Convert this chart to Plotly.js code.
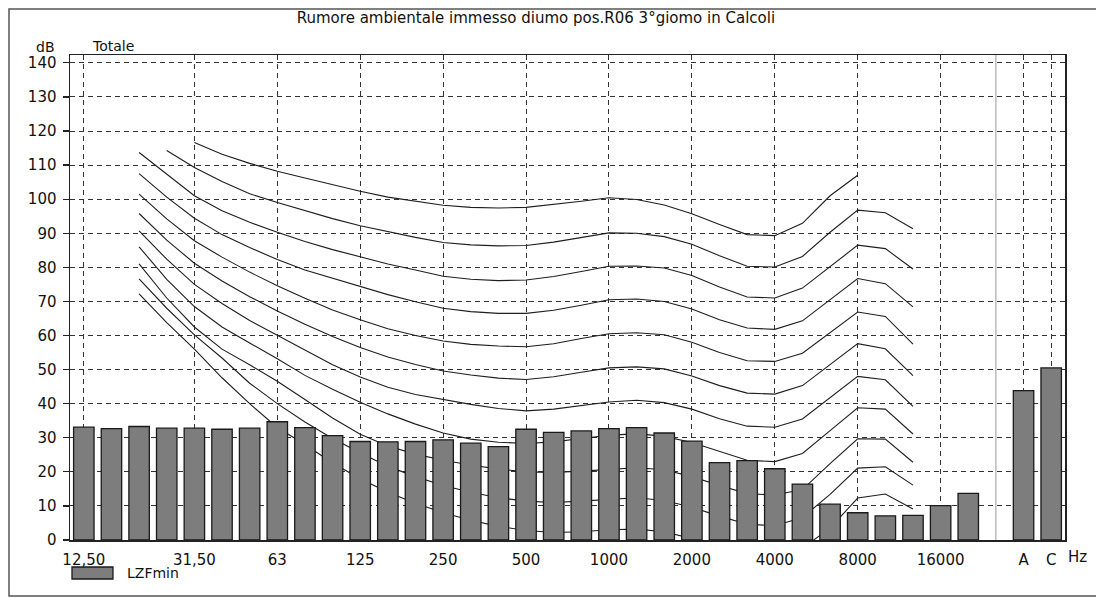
<!DOCTYPE html>
<html>
<head>
<meta charset="utf-8">
<script src="https://cdn.plot.ly/plotly-3.0.1.min.js"></script>
<style>
  html, body { margin: 0; padding: 0; background: #ffffff; }
  #chart { width: 1096px; height: 598px; }
</style>
</head>
<body>
<div id="chart"></div>
<script>
// ---- data ----
const bands = ["12.5","16","20","25","31.5","40","50","63","80","100","125","160","200","250","315","400",
  "500","630","800","1000","1250","1600","2000","2500","3150","4000","5000","6300","8000","10000","12500","16000","20000"];
const lzfmin = [33.1, 32.7, 33.3, 32.8, 32.8, 32.5, 32.8, 34.7, 33.0, 30.6, 28.9, 28.8, 28.9, 29.4, 28.4, 27.4,
  32.5, 31.6, 32.0, 32.7, 33.0, 31.4, 29.0, 22.7, 23.3, 20.9, 16.4, 10.5, 8.0, 7.1, 7.2, 10.1, 13.7];
const totalLabels = ["A", "C"];
const totalValues = [43.8, 50.5];
const spacer = " ";

const tickBands  = ["12.5","31.5","63","125","250","500","1000","2000","4000","8000","16000","A","C"];
const tickLabels = ["12,50","31,50","63","125","250","500","1000","2000","4000","8000","16000","A","C"];

// equal-loudness contours (20 Hz ... 12500 Hz)
const contourBands = ["20","25","31.5","40","50","63","80","100","125","160","200","250","315","400",
  "500","630","800","1000","1250","1600","2000","2500","3150","4000","5000","6300","8000","10000","12500"];
const phon100 = [null, null, 116.6, 113.2, 110.5, 108.2, 106.2, 104.2, 102.3, 100.6, 99.3, 98.2, 97.6, 97.4,
  97.6, 98.4, 99.4, 100.4, 99.9, 98.3, 95.7, 92.6, 89.6, 89.3, 92.9, 101.0, 107.0, null, null];
const phon90 = [null, 114.3, 109.3, 105.2, 101.6, 99.0, 96.6, 94.3, 92.2, 90.4, 88.8, 87.3, 86.6, 86.3,
  86.4, 87.4, 88.7, 90.1, 90.0, 89.0, 86.8, 83.4, 80.3, 80.1, 83.2, 90.3, 96.8, 96.0, 91.3];
const phon80 = [113.7, 107.3, 101.0, 96.6, 93.2, 90.3, 87.6, 85.2, 83.0, 81.0, 79.2, 77.4, 76.5, 76.1,
  76.3, 77.3, 78.8, 80.3, 80.4, 79.8, 77.6, 74.2, 71.3, 71.0, 73.9, 80.2, 86.5, 85.5, 79.5];
const phon70 = [107.5, 100.6, 94.4, 89.6, 85.8, 82.3, 79.2, 76.8, 74.5, 72.0, 69.9, 68.0, 67.0, 66.5,
  66.5, 67.4, 68.9, 70.5, 70.7, 70.0, 67.8, 64.6, 62.2, 61.8, 64.3, 70.5, 76.7, 75.2, 68.4];
const phon60 = [101.5, 94.2, 87.8, 83.0, 78.6, 74.6, 70.9, 67.5, 64.6, 62.0, 60.0, 58.4, 57.4, 56.9,
  56.7, 57.6, 59.1, 60.5, 60.8, 60.2, 58.0, 55.0, 52.6, 52.4, 54.8, 60.9, 66.9, 65.6, 57.5];
const phon50 = [95.8, 88.0, 81.2, 76.0, 71.4, 67.2, 63.3, 59.7, 56.5, 53.7, 51.5, 49.6, 48.4, 47.5,
  47.1, 47.9, 49.2, 50.5, 50.8, 50.2, 48.1, 45.3, 43.1, 42.8, 45.3, 51.4, 57.6, 56.1, 48.2];
const phon40 = [90.7, 82.4, 75.0, 69.4, 64.4, 60.0, 55.6, 51.4, 47.8, 44.8, 42.7, 41.2, 39.8, 38.6,
  37.9, 38.4, 39.5, 40.5, 41.0, 40.3, 38.4, 35.6, 33.4, 33.1, 35.5, 41.8, 48.0, 47.0, 39.2];
const phon30 = [86.0, 76.5, 68.5, 62.5, 57.8, 53.2, 48.3, 44.2, 40.4, 37.0, 34.0, 31.4, 29.6, 28.7,
  28.3, 28.8, 29.8, 30.7, 31.2, 30.4, 28.6, 25.9, 23.4, 23.0, 25.4, 32.1, 38.8, 38.4, 31.1];
const phon20 = [81.0, 71.0, 62.5, 56.0, 51.4, 46.6, 41.2, 35.8, 31.0, 27.6, 25.2, 23.4, 22.0, 20.8,
  20.0, 19.8, 20.2, 20.8, 21.2, 20.6, 18.6, 16.0, 13.6, 13.2, 14.8, 22.4, 29.7, 29.6, 22.8];
const phon10 = [76.6, 68.0, 60.2, 53.4, 46.0, 40.0, 34.6, 29.8, 25.6, 21.6, 18.6, 16.0, 14.0, 12.4,
  11.4, 11.0, 11.4, 12.0, 12.4, 11.6, 9.6, 7.0, 4.6, 4.2, 6.6, 13.4, 21.1, 21.5, 16.1];
const phon0 = [72.2, 63.8, 56.0, 47.6, 40.0, 33.0, 28.0, 22.6, 18.0, 14.0, 10.8, 8.0, 5.8, 4.0,
  2.8, 2.2, 2.4, 3.0, 3.2, 2.4, 0.4, -2.2, -4.4, -4.8, -2.4, 3.5, 12.3, 13.5, 9.1];
const contours = [phon0, phon10, phon20, phon30, phon40, phon50, phon60, phon70, phon80, phon90, phon100];

const titleText = "Rumore ambientale immesso diumo pos.R06 3°giomo in Calcoli";

// ---- build chart ----
const cats = bands.concat([spacer], totalLabels);
const FONT = "DejaVu Sans, Liberation Sans, Arial, sans-serif";

const traces = contours.map(c => ({
  type: "scatter", mode: "lines",
  x: contourBands, y: c,
  line: { color: "#1e1e1e", width: 1.1 },
  connectgaps: false, showlegend: false, hoverinfo: "skip"
}));

traces.push({
  type: "bar", name: "LZFmin",
  x: bands.concat(totalLabels),
  y: lzfmin.concat(totalValues),
  width: 0.74,
  marker: { color: "#7d7d7d", line: { color: "#1a1a1a", width: 1.3 } },
  showlegend: false
});

const yRange = [0, 142.3];
const xRange = [-0.5, cats.length - 0.5];

const layout = {
  width: 1096, height: 598,
  margin: { l: 70, r: 31, t: 55, b: 58 },
  paper_bgcolor: "#ffffff", plot_bgcolor: "#ffffff",
  font: { family: FONT, size: 14, color: "#111" },
  title: { text: titleText, font: { family: FONT, size: 15, color: "#111" },
           x: 0.489, xref: "container", y: 0.97, yref: "container", yanchor: "middle" },
  barmode: "group",
  showlegend: false,
  xaxis: {
    type: "category", categoryorder: "array", categoryarray: cats,
    range: xRange, tickmode: "array", tickvals: tickBands, ticktext: tickLabels,
    ticks: "", ticklabelstandoff: 5, automargin: false,
    showgrid: true, gridcolor: "#333", griddash: "5px,4px", gridwidth: 1,
    showline: true, linecolor: "#222", linewidth: 1.5, mirror: true,
    zeroline: false, tickfont: { family: FONT, size: 15, color: "#111" }
  },
  yaxis: {
    range: yRange, dtick: 10, tick0: 0, automargin: false,
    ticks: "outside", ticklen: 6, tickcolor: "#222", tickwidth: 1.2, ticklabelstandoff: 3,
    showgrid: true, gridcolor: "#333", griddash: "5px,4px", gridwidth: 1,
    showline: true, linecolor: "#222", linewidth: 1.5, mirror: true,
    zeroline: false, tickfont: { family: FONT, size: 15, color: "#111" }
  },
  shapes: [
    { type: "line", xref: "x", yref: "paper", x0: cats.indexOf(spacer), x1: cats.indexOf(spacer),
      y0: 0, y1: 1, line: { color: "#9a9a9a", width: 1 }, layer: "below" },
    { type: "rect", xref: "paper", yref: "paper", x0: 0.002, x1: 0.0432, y0: -0.0804, y1: -0.0557,
      fillcolor: "#7d7d7d", line: { color: "#1a1a1a", width: 1.3 } },
    { type: "rect", xref: "paper", yref: "paper", x0: -0.0613, x1: 1.04, y0: -0.1155, y1: 1.095,
      fillcolor: "rgba(0,0,0,0)", line: { color: "#555", width: 1.5 } }
  ],
  annotations: [
    { text: "dB", xref: "paper", yref: "paper", x: -0.0251, y: 1.016, xanchor: "center", yanchor: "middle",
      showarrow: false, font: { family: FONT, size: 14, color: "#111" } },
    { text: "Totale", xref: "paper", yref: "paper", x: 0.0432, y: 1.018, xanchor: "center", yanchor: "middle",
      showarrow: false, font: { family: FONT, size: 14, color: "#111" } },
    { text: "Hz", xref: "paper", yref: "paper", x: 1.013, y: -0.035, xanchor: "center", yanchor: "middle",
      showarrow: false, font: { family: FONT, size: 15, color: "#111" } },
    { text: "LZFmin", xref: "paper", yref: "paper", x: 0.0553, y: -0.068, xanchor: "left", yanchor: "middle",
      showarrow: false, font: { family: FONT, size: 14, color: "#111" } }
  ]
};

// The contour lines sit behind the bars in the reference: put the scatter
// layer before the bar layer inside each plot group (after every redraw).
function linesBehindBars() {
  document.querySelectorAll("#chart .barlayer").forEach(bl => {
    const parent = bl.parentNode;
    Array.from(parent.children).forEach(ch => {
      if (ch.classList && ch.classList.contains("scatterlayer")) parent.insertBefore(ch, bl);
    });
  });
}

const gdDiv = document.getElementById("chart");
const p = Plotly.newPlot(gdDiv, traces, layout, { displayModeBar: false, staticPlot: true });
linesBehindBars();
if (gdDiv.on) gdDiv.on("plotly_afterplot", linesBehindBars);
p.then(gd => {
  linesBehindBars();
  if (gd.on) gd.on("plotly_afterplot", linesBehindBars);
  setTimeout(linesBehindBars, 0);
  setTimeout(linesBehindBars, 100);
  setTimeout(linesBehindBars, 400);
  requestAnimationFrame(linesBehindBars);
});
</script>
</body>
</html>
